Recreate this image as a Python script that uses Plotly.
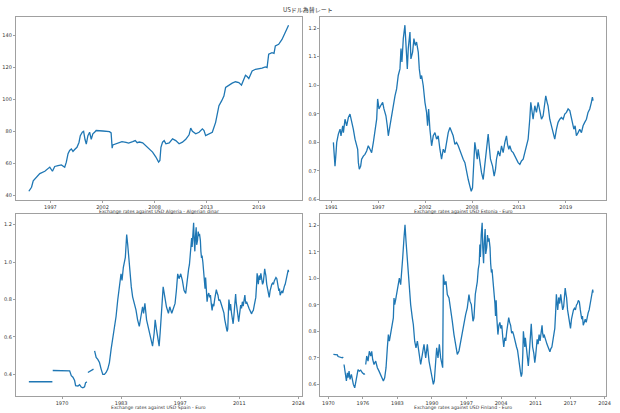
import plotly.graph_objects as go

# ---------------- data (decimal years) ----------------
algeria_years = [1995.11,1995.39,1995.57,1995.92,1996.26,1996.79,1997.14,1997.31,1997.59,1997.83,
                 1998.18,1998.53,1998.88,1999.05,1999.23,1999.40,1999.58,1999.75,1999.93,2000.17,
                 2000.38,2000.52,2000.73,2000.87,2001.01,2001.15,2001.32,2001.50,2001.67,2001.84,
                 2002.02,2002.19,2002.89,2003.59,2003.76,2003.87,2003.94,2004.20,2004.63,2004.90,
                 2005.33,2005.60,2006.03,2006.30,2006.50,2006.73,2007.08,2007.43,2007.77,2008.12,
                 2008.47,2008.75,2008.89,2009.00,2009.17,2009.34,2009.52,2009.87,2010.22,2010.56,
                 2010.91,2011.26,2011.61,2011.79,2011.96,2012.13,2012.31,2012.66,2013.01,2013.36,
                 2013.53,2013.70,2014.05,2014.40,2014.75,2015.10,2015.38,2015.62,2015.80,2016.15,
                 2016.49,2016.84,2017.19,2017.47,2017.71,2017.89,2018.06,2018.24,2018.59,2018.94,
                 2019.63,2019.98,2020.16,2020.33,2020.68,2020.89,2021.03,2021.38,2021.73,2022.07,
                 2022.25,2022.42]
algeria_vals = [42.5,45,49,51.4,53.5,55,56.6,57.6,55,58,
                58.5,59,57.5,60.7,66,68,69,67.4,68.6,70,
                73,77.3,79.4,80,75,72,77.3,79.4,75,78.4,
                79.4,80.5,80.2,79.8,79,69.5,71.5,72.0,72.5,73.5,
                73,72.6,73.5,74.2,72.9,73.3,72.8,71,69,67,
                63.9,60.7,61.8,70,73.2,74.2,72.2,72.8,75.3,74.2,
                72.2,73.2,75,76.3,77.8,82,80,78.4,79.4,81.5,
                80.5,77.3,78.4,79.4,85.6,96,99,102,107.4,108.9,
                110.1,111,110.5,108.9,112.6,115.1,114.3,113,117.8,118.8,
                119.5,120.3,119.9,128.2,129.2,128.8,133.4,134.4,137.5,141.7,
                144.8,146.4]

estonia_pre_years = [1992.13,1992.21,1992.32,1992.44,1992.52,1992.71,1992.91,1993.02,1993.22,1993.30,
                     1993.49,1993.68,1993.88,1994.07,1994.27,1994.46,1994.66,1994.85,1994.97,1995.05,
                     1995.16,1995.32,1995.43,1995.63,1995.82,1996.02,1996.21,1996.41,1996.60,1996.80,
                     1996.99,1997.19,1997.30,1997.46,1997.65,1997.89,1998.04,1998.27,1998.43,1998.55,
                     1998.74,1998.94]
estonia_pre_vals = [0.80,0.764,0.717,0.764,0.80,0.829,0.846,0.823,0.858,0.834,
                    0.881,0.858,0.887,0.899,0.875,0.846,0.811,0.793,0.776,0.729,
                    0.706,0.717,0.741,0.752,0.758,0.770,0.788,0.776,0.764,0.80,
                    0.834,0.881,0.952,0.917,0.928,0.94,0.917,0.893,0.858,0.823,
                    0.858,0.893]

euro_years = [1999.13,1999.33,1999.52,1999.71,1999.91,2000.03,2000.14,2000.30,2000.49,2000.61,
              2000.77,2000.88,2001.08,2001.19,2001.39,2001.54,2001.70,2001.85,2002.05,2002.17,
              2002.32,2002.44,2002.63,2002.83,2003.02,2003.14,2003.26,2003.41,2003.61,2003.80,
              2004.00,2004.19,2004.38,2004.58,2004.77,2004.97,2005.16,2005.36,2005.55,2005.75,
              2005.94,2006.13,2006.33,2006.52,2006.72,2006.91,2007.11,2007.30,2007.50,2007.69,
              2007.89,2008.08,2008.24,2008.39,2008.55,2008.66,2008.78,2008.94,2009.05,2009.25,
              2009.44,2009.64,2009.83,2010.03,2010.22,2010.34,2010.49,2010.73,2010.92,2011.08,
              2011.19,2011.39,2011.58,2011.78,2011.97,2012.17,2012.36,2012.48,2012.63,2012.75,
              2012.94,2013.14,2013.33,2013.53,2013.72,2013.92,2014.11,2014.31,2014.50,2014.70,
              2014.89,2015.08,2015.20,2015.36,2015.47,2015.67,2015.86,2016.06,2016.25,2016.45,
              2016.64,2016.83,2016.95,2017.11,2017.22,2017.42,2017.61,2017.81,2018.00,2018.20,
              2018.39,2018.59,2018.78,2018.98,2019.17,2019.37,2019.56,2019.76,2019.95,2020.07,
              2020.23,2020.38,2020.53,2020.73,2020.92,2021.12,2021.31,2021.50,2021.70,2021.89,
              2022.09,2022.28,2022.40,2022.48]
euro_vals = [0.94,0.963,0.987,1.034,1.057,1.128,1.081,1.163,1.21,1.116,
             1.057,1.128,1.186,1.092,1.116,1.163,1.139,1.151,1.116,1.057,
             1.022,1.034,0.999,0.94,0.905,0.858,0.917,0.846,0.788,0.823,
             0.834,0.811,0.823,0.776,0.741,0.776,0.764,0.80,0.834,0.852,
             0.834,0.823,0.793,0.80,0.788,0.770,0.752,0.741,0.729,0.694,
             0.670,0.647,0.629,0.641,0.717,0.80,0.776,0.741,0.776,0.729,
             0.694,0.670,0.717,0.788,0.829,0.788,0.741,0.717,0.682,0.706,
             0.741,0.770,0.752,0.788,0.764,0.80,0.823,0.793,0.776,0.788,
             0.770,0.764,0.752,0.741,0.729,0.723,0.735,0.741,0.764,0.788,
             0.811,0.881,0.94,0.905,0.881,0.928,0.905,0.94,0.905,0.881,
             0.893,0.94,0.963,0.94,0.928,0.881,0.858,0.834,0.811,0.846,
             0.87,0.881,0.887,0.881,0.899,0.905,0.917,0.911,0.881,0.858,
             0.846,0.858,0.823,0.834,0.846,0.834,0.858,0.87,0.881,0.905,
             0.917,0.94,0.958,0.946]

spain_pre_years = [1962.32,1965.0,1967.77,None,
                   1967.85,1969.5,1971.77,1972.15,1972.53,1972.92,1973.15,1973.69,1974.07,1974.45,
                   1974.84,1975.22,1975.45,1975.76,None,
                   1975.99,1976.76,1977.30,None,
                   1977.55,1977.91,1978.29,1978.68,1979.06,1979.45,1979.83,1980.21,1980.60,1980.98,
                   1981.37,1981.75,1982.14,1982.52,1982.90,1983.29,1983.67,1983.90,1984.21,1984.67,
                   1984.98,1985.21,1985.44,1985.75,1986.05,1986.36,1986.74,1987.13,1987.51,1987.90,
                   1988.28,1988.66,1988.89,1989.20,1989.59,1990.05,1990.58,1990.97,1991.35,1991.58,
                   1991.89,1992.20,1992.50,1992.73,1993.12,1993.43,1993.81,1994.19,1994.65,1994.96,
                   1995.42,1995.73,1996.19,1996.50,1996.80,1997.11,1997.50,1997.88,1998.26,1998.65]
spain_pre_vals = [0.3606,0.3606,0.3606,None,
                  0.4207,0.4207,0.419,0.393,0.385,0.367,0.34,0.338,0.345,0.332,
                  0.328,0.333,0.355,0.36,None,
                  0.41,0.42,0.428,None,
                  0.525,0.49,0.48,0.463,0.428,0.40,0.40,0.41,0.428,0.463,
                  0.533,0.586,0.639,0.709,0.796,0.867,0.937,0.902,0.972,1.025,
                  1.147,1.095,1.025,0.937,0.867,0.814,0.779,0.744,0.691,0.656,
                  0.709,0.761,0.726,0.779,0.691,0.639,0.586,0.551,0.621,0.691,
                  0.639,0.586,0.551,0.621,0.761,0.867,0.814,0.761,0.726,0.761,
                  0.726,0.744,0.779,0.849,0.937,0.911,0.937,0.902,0.849,0.832]

finland_pre_years = [1970.99,1971.78,1971.92,1972.44,1972.77,1972.95,None,
                     1973.10,1973.30,1973.57,1973.76,1973.90,1974.10,1974.29,1974.56,1974.76,1974.95,
                     1975.22,1975.42,1975.61,1975.88,1976.14,1976.41,1976.74,1977.07,1977.27,None,
                     1977.40,1977.60,1977.86,1978.12,1978.39,1978.59,1978.78,1979.05,1979.38,1979.71,
                     1980.04,1980.37,1980.70,1980.90,1981.16,1981.43,1981.69,1981.89,1982.09,1982.35,
                     1982.68,1982.88,1983.01,1983.14,1983.34,1983.67,1983.87,1984.07,1984.33,1984.53,
                     1984.73,1984.99,1985.19,1985.39,1985.65,1985.85,1986.12,1986.31,1986.64,1986.84,
                     1987.11,1987.37,1987.64,1987.97,1988.30,1988.63,1988.96,1989.29,1989.62,1989.95,
                     1990.28,1990.61,1990.81,1991.00,1991.27,1991.47,1991.73,1992.00,1992.26,1992.46,
                     1992.66,1992.79,1993.05,1993.32,1993.58,1993.91,1994.24,1994.57,1994.90,1995.23,
                     1995.56,1995.89,1996.22,1996.55,1996.88,1997.21,1997.54,1997.87,1998.07,1998.34,
                     1998.67,1998.86]
finland_pre_vals = [0.713,0.711,0.705,0.703,0.700,0.703,None,
                    0.675,0.638,0.613,0.644,0.625,0.65,0.619,0.638,0.613,0.60,
                    0.587,0.613,0.638,0.656,0.65,0.654,0.644,0.638,0.640,None,
                    0.675,0.707,0.688,0.725,0.707,0.725,0.694,0.675,0.688,0.663,
                    0.65,0.638,0.625,0.613,0.625,0.663,0.738,0.788,0.763,0.788,
                    0.826,0.851,0.926,0.901,0.92,0.951,0.976,1.001,0.976,1.052,
                    1.077,1.152,1.202,1.14,1.064,1.001,0.939,0.901,0.851,0.826,
                    0.763,0.738,0.763,0.713,0.675,0.713,0.751,0.70,0.751,0.688,
                    0.65,0.625,0.60,0.613,0.675,0.738,0.70,0.751,0.70,0.675,
                    0.663,1.014,0.976,0.989,0.939,0.926,0.889,0.838,0.788,0.751,
                    0.713,0.726,0.763,0.788,0.838,0.863,0.889,0.939,0.914,0.901,
                    0.838,0.851]

# tick positions (days since 1970-01-01) and their labels
algeria_tick_days = [10000, 12000, 14000, 16000, 18000]
algeria_tick_labels = ["1997", "2002", "2008", "2013", "2019"]
estonia_tick_days = [8000, 10000, 12000, 14000, 16000, 18000]
estonia_tick_labels = ["1991", "1997", "2002", "2008", "2013", "2019"]
spain_tick_days = [0, 5000, 10000, 15000, 20000]
spain_tick_labels = ["1970", "1983", "1997", "2011", "2024"]
finland_tick_days = [0, 2500, 5000, 7500, 10000, 12500, 15000, 17500, 20000]
finland_tick_labels = ["1970", "1976", "1983", "1990", "1997", "2004", "2011", "2017", "2024"]

titles = ["Exchange rates against USD Algeria - Algerian dinar",
          "Exchange rates against USD Estonia - Euro",
          "Exchange rates against USD Spain - Euro",
          "Exchange rates against USD Finland - Euro"]
main_title = "USドル為替レート"

# ---------------- build figure ----------------
W, H = 620, 413
series = [
    (algeria_years, algeria_vals, algeria_tick_days, algeria_tick_labels, 20, "d"),
    (estonia_pre_years + euro_years, estonia_pre_vals + euro_vals, estonia_tick_days, estonia_tick_labels, 0.1, ".1f"),
    (spain_pre_years + euro_years, spain_pre_vals + euro_vals, spain_tick_days, spain_tick_labels, 0.2, ".1f"),
    (finland_pre_years + euro_years, finland_pre_vals + euro_vals, finland_tick_days, finland_tick_labels, 0.1, ".1f"),
]
# pixel boxes: left, right, top, bottom
boxes = [(16, 304, 17, 201), (323, 611, 17, 201), (16, 304, 216, 399), (323, 611, 216, 399)]
title_y = [213, 213, 410, 410]

fig = go.Figure()
layout = dict(width=W, height=H, margin=dict(l=0, r=0, t=0, b=0),
              paper_bgcolor="white", plot_bgcolor="white", showlegend=False,
              font=dict(family="DejaVu Sans", size=5, color="#333333"))
annotations = []
spine = "#a0a0a0"
for i, (xs, ys, tdays, tlabels, dt, fmt) in enumerate(series):
    n = "" if i == 0 else str(i + 1)
    fig.add_trace(go.Scatter(x=xs, y=ys, mode="lines", connectgaps=False,
                             line=dict(color="#1f77b4", width=1.3),
                             xaxis="x" + n, yaxis="y" + n))
    xv = [v for v in xs if v is not None]
    yv = [v for v in ys if v is not None]
    x0, x1 = min(xv), max(xv)
    y0, y1 = min(yv), max(yv)
    px = (x1 - x0) * 0.05
    py = (y1 - y0) * 0.05
    l, r, t, b = boxes[i]
    tickvals = [1970 + d / 365.25 for d in tdays]
    layout["xaxis" + n] = dict(domain=[l / W, r / W], anchor="y" + n, range=[x0 - px, x1 + px],
                               tickmode="array", tickvals=tickvals, ticktext=tlabels,
                               showgrid=False, zeroline=False, showline=True, mirror=True,
                               linecolor=spine, linewidth=1, ticks="outside", ticklen=2,
                               tickcolor=spine, tickwidth=0.8, tickfont=dict(size=5))
    layout["yaxis" + n] = dict(domain=[1 - b / H, 1 - t / H], anchor="x" + n, range=[y0 - py, y1 + py],
                               dtick=dt, tick0=0, tickformat=fmt,
                               showgrid=False, zeroline=False, showline=True, mirror=True,
                               linecolor=spine, linewidth=1, ticks="outside", ticklen=2,
                               tickcolor=spine, tickwidth=0.8, tickfont=dict(size=5))
    annotations.append(dict(text=titles[i], x=(l + r) / 2 / W, y=1 - title_y[i] / H,
                            xref="paper", yref="paper", showarrow=False,
                            xanchor="center", yanchor="middle",
                            font=dict(family="DejaVu Sans", size=4.6, color="#333333")))
annotations.append(dict(text=main_title, x=0.5, y=1 - 10 / H, xref="paper", yref="paper",
                        showarrow=False, xanchor="center", yanchor="middle",
                        font=dict(family="Noto Sans CJK JP", size=6, color="#333333")))
layout["annotations"] = annotations
fig.update_layout(**layout)
fig.write_html("out.html")
